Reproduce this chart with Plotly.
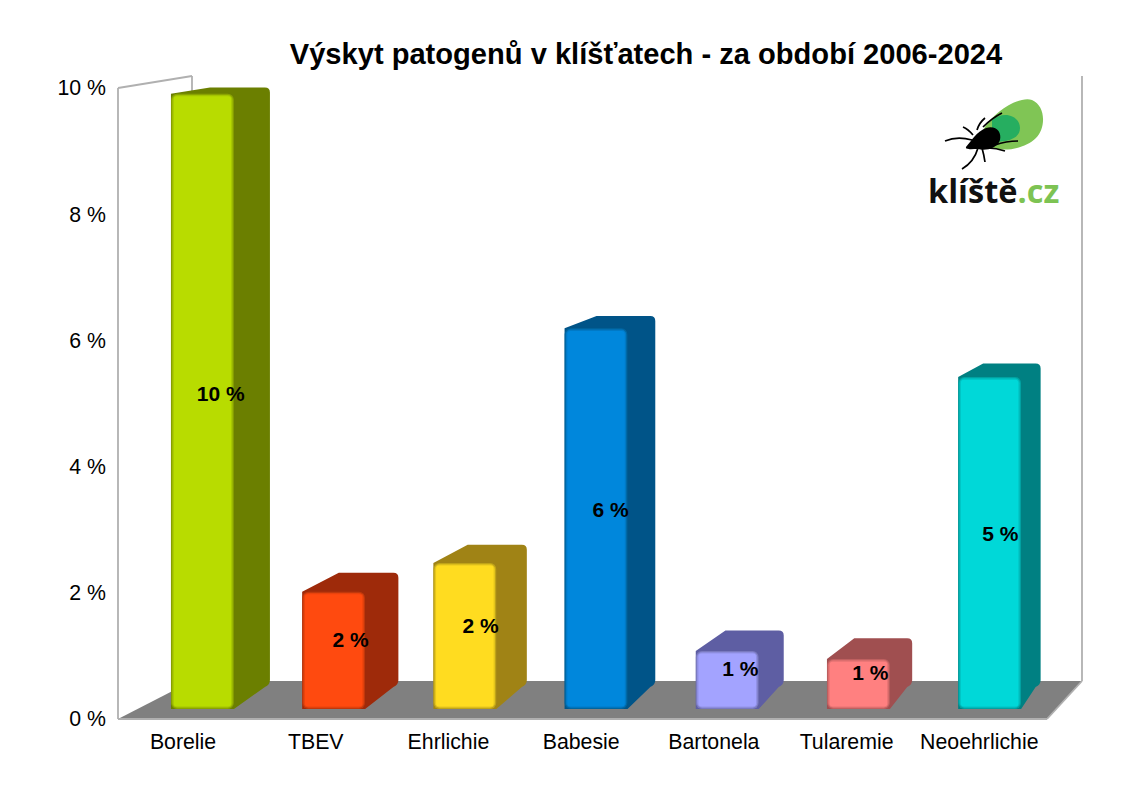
import plotly.graph_objects as go

categories = ["Borelie", "TBEV", "Ehrlichie", "Babesie", "Bartonela", "Tularemie", "Neoehrlichie"]
values = [9.86, 1.88, 2.34, 6.1, 0.93, 0.8, 5.32]
front_colors = ["#b8dc00", "#ff4a0f", "#ffdc20", "#0087dc", "#a3a3ff", "#ff8080", "#00d8d8"]
mid_colors = ["#a4c400", "#e8430d", "#e6c61c", "#0079c6", "#9292e6", "#e67373", "#00c2c2"]
edge_colors = ["#8aa300", "#c0380c", "#bfa318", "#00659f", "#7a7abf", "#bf6060", "#00a2a2"]
side_colors = ["#6b7f00", "#9e2a0a", "#a08315", "#005488", "#5e5ea3", "#a04f50", "#008082"]
y_ticks = [0, 2, 4, 6, 8, 10]

# pixel frame of the fake 3d box (axis area is a bit bigger so the wall lines don't clip)
LEFT, RIGHT, TOP, FLOOR = 118, 1082, 76, 719
PAD = 3
CAT_W = 132.71
UNIT = 63.1


def ax(px):
    return (px - LEFT) / CAT_W


def ay(py):
    return (FLOOR - py) / UNIT


def pt(px, py):
    return f"{ax(px):.4f},{ay(py):.4f}"


def poly(points, **kw):
    path = "M " + " L ".join(pt(*p) for p in points) + " Z"
    return dict(type="path", path=path, xref="x", yref="y", layer="below", **kw)


def line(p0, p1, color="#b0b0b0", width=1.8, layer="below"):
    return dict(type="line", xref="x", yref="y", layer=layer,
                x0=ax(p0[0]), y0=ay(p0[1]), x1=ax(p1[0]), y1=ay(p1[1]),
                line=dict(color=color, width=width))


def px_path(p):
    # svg path written in pixels -> axis units
    parts = []
    for tok in p.split():
        if "," in tok:
            a, b = tok.split(",")
            parts.append(pt(float(a), float(b)))
        else:
            parts.append(tok)
    return " ".join(parts)


shapes = [
    poly([(118, 719), (1047, 719), (1082, 681), (192, 681)], fillcolor="#808080", line_width=0),
    line((118, 719), (1047, 719)),
    line((118, 88), (118, 719)),
    line((118, 88), (192, 76)),
    line((192, 76), (192, 681)),
    line((1082, 76), (1082, 681)),
    line((1082, 681), (1047, 719)),
]

# perspective of one bar: front face, then the back edge further up and right
bar_x, bar_h, label_x, label_y, labels = [], [], [], [], []
for i, v in enumerate(values):
    fl = 137.5 + 131.2 * (i + 0.255)
    fr = 137.5 + 131.2 * (i + 0.735)
    bl = fl + 39 - 14 * i / 6
    br = fr + 36 - 16.5 * i / 6
    ft = 709 - v * 62.4
    bt = 687 - v * 60.8
    r = 5
    path = ("M " + pt(fl, ft) + " L " + pt(bl, bt) + " L " + pt(br - r, bt)
            + " Q " + pt(br, bt) + " " + pt(br, bt + r)
            + " L " + pt(br, 685 - r) + " Q " + pt(br, 685) + " " + pt(br - r, 687)
            + " L " + pt(fr, 709) + " L " + pt(fl, 709) + " Z")
    shapes.append(dict(type="path", path=path, xref="x", yref="y", layer="below",
                       fillcolor=side_colors[i], line_width=0))
    bar_x.append(ax((fl + fr) / 2))
    bar_h.append(v * 62.4)
    label_x.append(ax((fl + fr + bl + br) / 4 - 0.5))
    label_y.append(ay((709 + ft + 685 + bt) / 4 + 2))
    labels.append(f"{round(v)} %")

# tick logo
logo = [
    "M 983,130 C 995,110 1020,96 1032,100 C 1046,106 1046,128 1036,138 C 1026,148 1006,152 994,148 C 986,145 982,138 983,130 Z",
    "M 992,120 C 1004,110 1020,116 1020,128 C 1020,140 1004,142 992,142 Z",
    "M 966,147 C 972,140 976,132 986,128 C 996,125 1002,132 1000,140 C 997,149 985,151 978,149 C 972,149 965,150 966,147 Z",
]
logo_colors = ["#80c555", "#26ae60", "#000000"]
for p, c in zip(logo, logo_colors):
    shapes.append(dict(type="path", path=px_path(p), xref="x", yref="y",
                       fillcolor=c, line_width=0))
legs = [
    "M 977,130 Q 979,123 985,118", "M 983,127 Q 992,118 1002,113",
    "M 973,135 Q 968,129 963,127", "M 972,140 Q 957,136 945,141",
    "M 978,148 Q 974,162 962,169", "M 982,148 Q 984,155 985,162",
    "M 988,148 Q 996,148 1005,151", "M 995,145 Q 1006,141 1018,141",
]
for leg in legs:
    shapes.append(dict(type="path", xref="x", yref="y", line=dict(color="#000000", width=1.7),
                       path=px_path(leg)))

fig = go.Figure()
# soft bevel of the front face: same bar three times, each a bit smaller
for inset, colors, rad in [(0, edge_colors, 6), (1.2, mid_colors, 5), (2.6, front_colors, 3)]:
    fig.add_trace(go.Bar(
        x=bar_x,
        y=[(h - 2 * inset) / UNIT for h in bar_h],
        base=ay(709 - inset),
        width=(62.7 - 2 * inset) / CAT_W,
        marker=dict(color=colors, line_width=0, cornerradius=rad),
        hoverinfo="skip", showlegend=False,
    ))
fig.add_trace(go.Scatter(
    x=label_x, y=label_y, mode="text", text=["<b>" + t + "</b>" for t in labels],
    textfont=dict(family="Liberation Sans", size=21, color="#000000"),
    hoverinfo="skip", showlegend=False,
))

fig.add_annotation(x=ax(993), y=ay(190), xref="x", yref="y", showarrow=False,
                   text='<b>klíště<span style="color:#7dc353">.cz</span></b>',
                   font=dict(family="Open Sans", size=32.5, color="#111111"))

fig.update_layout(
    width=1123, height=794,
    barmode="overlay",
    margin=dict(l=LEFT - PAD, r=1123 - RIGHT - PAD, t=TOP - PAD, b=794 - FLOOR - PAD),
    paper_bgcolor="white", plot_bgcolor="white",
    title=dict(text="<b>Výskyt patogenů v klíšťatech - za období 2006-2024</b>",
               x=646 / 1123, y=1 - 54 / 794, xanchor="center", yanchor="middle",
               font=dict(family="Liberation Sans", size=29.1, color="#000000")),
    shapes=shapes,
    xaxis=dict(range=[ax(LEFT - PAD), ax(RIGHT + PAD)],
               tickvals=[i + 0.49 for i in range(len(categories))],
               ticktext=categories, showgrid=False, zeroline=False, showline=False,
               ticks="", ticklabelstandoff=5,
               tickfont=dict(family="Liberation Sans", size=21.3, color="#000000")),
    yaxis=dict(range=[ay(FLOOR + PAD), ay(TOP - PAD)], tickvals=y_ticks,
               ticktext=[f"{t} %" for t in y_ticks], showgrid=False,
               zeroline=False, showline=False, ticks="", ticklabelstandoff=8,
               tickfont=dict(family="Liberation Sans", size=21.3, color="#000000")),
)

fig.write_html("out.html", config=dict(displayModeBar=False),
               post_script="document.body.style.margin='0';")
